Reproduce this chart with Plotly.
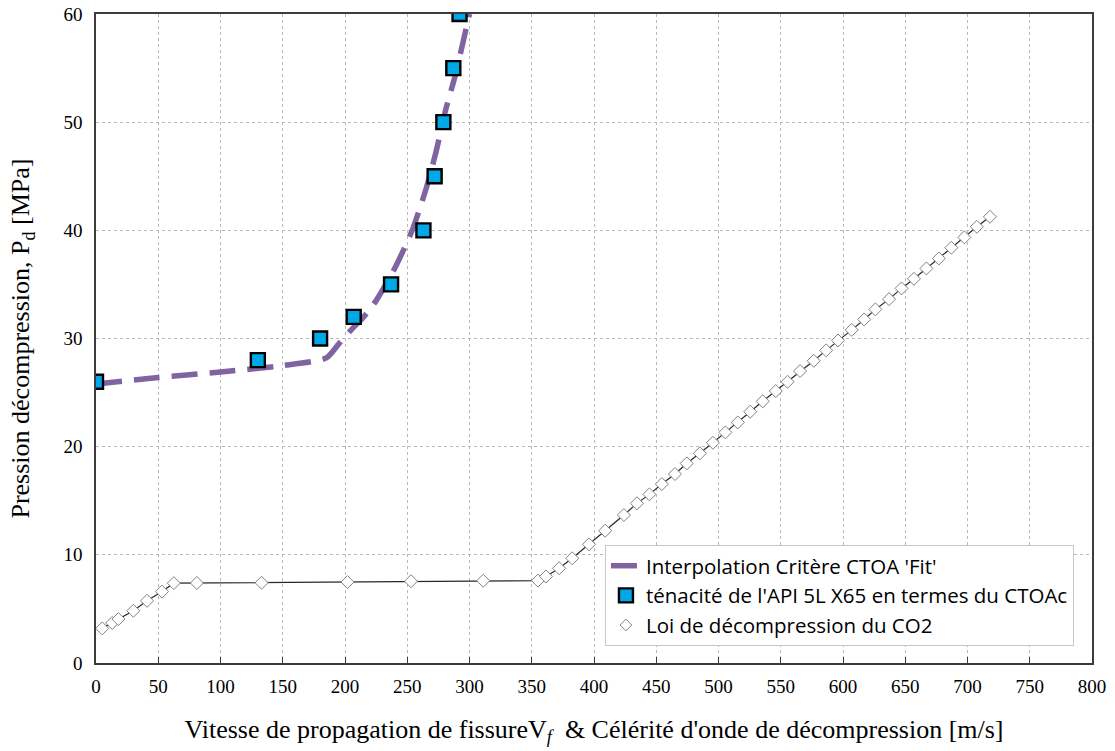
import plotly.graph_objects as go

# CTOA fit curve (dashed purple)
fit_v = [0, 50, 100, 150, 185, 195, 205, 215, 225, 240, 254, 265, 273, 281, 289, 295, 300]
fit_p = [25.8, 26.4, 26.9, 27.5, 28.2, 29.5, 30.8, 32.0, 33.5, 36.5, 40.0, 43.8, 47.2, 51.2, 54.5, 57.5, 60.0]

# Toughness API 5L X65 (CTOAc) - squares
ten_v = [0, 130, 180, 207, 237, 263, 272, 279, 287, 292]
ten_p = [26, 28, 30, 32, 35, 40, 45, 50, 55, 60]

# CO2 decompression law - open diamonds
co2_v = [5, 13, 18, 30, 41, 53, 62.5, 81, 133, 202, 253, 311, 355, 361.5, 372, 382.5,
         396, 409, 424, 434.5, 444.5, 454.5, 465, 474.5, 485, 495.5, 505.5, 515.5, 525.5,
         535.5, 546, 555.5, 565.5, 576.5, 586.5, 596, 607, 617, 626, 637, 647, 657, 667,
         677, 687, 697.5, 707.5, 718]
co2_p = [3.2, 3.7, 4.06, 4.83, 5.75, 6.6, 7.38, 7.4, 7.42, 7.48, 7.56, 7.6, 7.62, 8.0,
         8.76, 9.68, 10.97, 12.23, 13.68, 14.76, 15.59, 16.54, 17.47, 18.45, 19.38, 20.36,
         21.32, 22.24, 23.23, 24.19, 25.14, 26.0, 26.99, 27.94, 28.9, 29.82, 30.8, 31.76,
         32.69, 33.64, 34.63, 35.52, 36.48, 37.4, 38.39, 39.35, 40.33, 41.25]

x_ticks = list(range(0, 801, 50))
y_ticks = list(range(0, 61, 10))

PURPLE = "rgb(128,100,162)"
BLUE = "rgb(0,168,232)"

fig = go.Figure()
fig.add_trace(go.Scatter(
    x=fit_v, y=fit_p, mode="lines", name="Interpolation Critère CTOA 'Fit'",
    line=dict(color=PURPLE, width=5.5, dash="26px,12px", shape="spline", smoothing=0.6),
))
fig.add_trace(go.Scatter(
    x=ten_v, y=ten_p, mode="markers", name="ténacité de l'API 5L X65 en termes du CTOAc",
    marker=dict(symbol="square", size=14, color=BLUE,
                line=dict(color="black", width=2.4)),
))
fig.add_trace(go.Scatter(
    x=co2_v, y=co2_p, mode="lines+markers", name="Loi de décompression du CO2",
    showlegend=False,
    line=dict(color="rgb(40,40,40)", width=1.2),
    marker=dict(symbol="diamond", size=10, color="white",
                line=dict(color="rgb(130,130,130)", width=1)),
))
# legend entry (marker only) for the CO2 law
fig.add_trace(go.Scatter(
    x=[None], y=[None], mode="markers", name="Loi de décompression du CO2",
    marker=dict(symbol="diamond", size=9, color="white",
                line=dict(color="rgb(130,130,130)", width=1)),
))

serif = "Liberation Serif, Times New Roman, serif"
axis_font = dict(family=serif, size=19, color="black")
fig.update_layout(
    width=1115, height=751,
    margin=dict(l=96, r=23, t=14, b=88),
    paper_bgcolor="white", plot_bgcolor="white",
    showlegend=True,
    legend=dict(
        x=0.511, y=0.182, xanchor="left", yanchor="top",
        bgcolor="white", bordercolor="rgb(200,200,200)", borderwidth=1,
        font=dict(family="Open Sans, Lato, sans-serif", size=20.5, color="black"),
        itemwidth=30,
    ),
    xaxis=dict(
        range=[0, 800], tickvals=x_ticks, ticktext=[str(v) for v in x_ticks],
        showgrid=True, gridcolor="rgb(185,185,185)", griddash="dot", gridwidth=1,
        showline=True, linecolor="rgb(60,60,60)", linewidth=1.5, mirror=True,
        ticks="inside", ticklen=6, tickcolor="rgb(60,60,60)",
        tickfont=axis_font, zeroline=False, automargin=False, ticklabelstandoff=5,
        ticklabeloverflow="allow",
        title=dict(text="Vitesse de propagation de fissureV<sub><i>f</i></sub>  & Célérité d'onde de décompression [m/s]",
                   font=dict(family=serif, size=26, color="black"),
                   standoff=24),
    ),
    yaxis=dict(
        range=[0, 60], tickvals=y_ticks, ticktext=[str(v) for v in y_ticks],
        showgrid=True, gridcolor="rgb(185,185,185)", griddash="dot", gridwidth=1,
        showline=True, linecolor="rgb(60,60,60)", linewidth=1.5, mirror=True,
        ticks="", tickfont=axis_font, zeroline=False, automargin=False, ticklabelstandoff=8,
        ticklabeloverflow="allow",
        title=dict(text="Pression décompression, P<sub>d</sub> [MPa]",
                   font=dict(family=serif, size=26, color="black"),
                   standoff=26),
    ),
)
fig.write_html("out.html", config={"displayModeBar": False},
               post_script="document.body.style.margin='0';document.body.style.overflow='hidden';")
